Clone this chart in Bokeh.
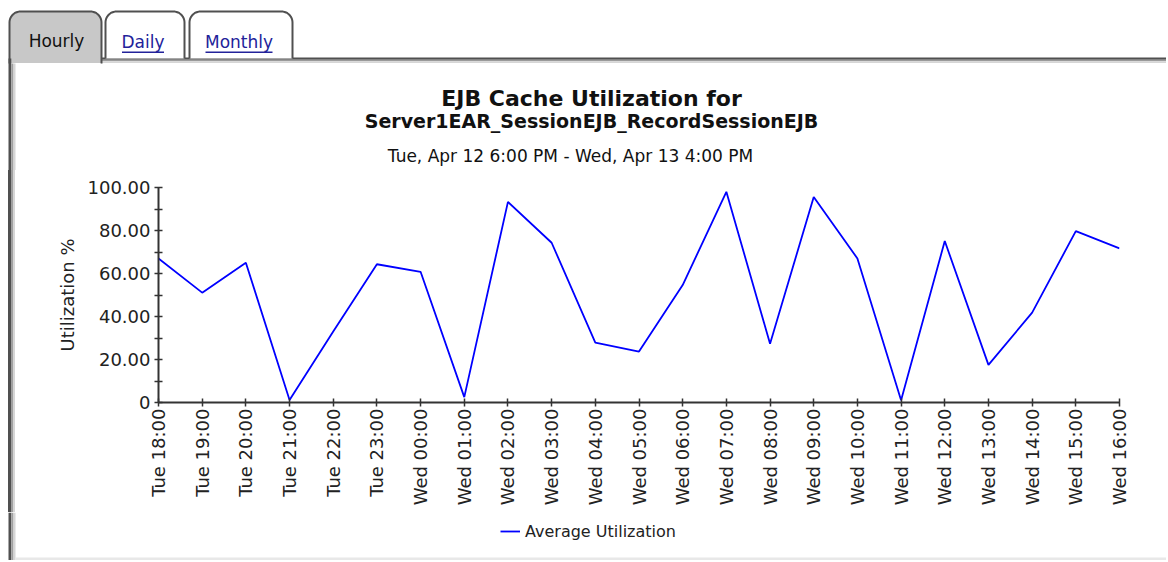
import math
import numpy as np
from bokeh.plotting import figure
from bokeh.layouts import column
from bokeh.models import Range1d, FixedTicker, Legend, LegendItem
from bokeh.core.properties import value
from bokeh.embed import file_html
from bokeh.resources import INLINE

# ---------------- data ----------------
hours = ["Tue 18:00", "Tue 19:00", "Tue 20:00", "Tue 21:00", "Tue 22:00", "Tue 23:00",
         "Wed 00:00", "Wed 01:00", "Wed 02:00", "Wed 03:00", "Wed 04:00", "Wed 05:00",
         "Wed 06:00", "Wed 07:00", "Wed 08:00", "Wed 09:00", "Wed 10:00", "Wed 11:00",
         "Wed 12:00", "Wed 13:00", "Wed 14:00", "Wed 15:00", "Wed 16:00"]
utilization = [67.0, 51.1, 65.0, 1.2, 33.0, 64.3,
               60.8, 2.5, 93.3, 74.3, 27.9, 23.7,
               54.6, 98.0, 27.3, 95.6, 67.0, 1.0,
               75.1, 17.5, 41.8, 79.7, 71.7]
y_ticks = [0, 20, 40, 60, 80, 100]
y_minor_ticks = [10, 30, 50, 70, 90]
y_tick_labels = ["0", "20.00", "40.00", "60.00", "80.00", "100.00"]
title_lines = ["EJB Cache Utilization for",
               "Server1EAR_SessionEJB_RecordSessionEJB",
               "Tue, Apr 12 6:00 PM - Wed, Apr 13 4:00 PM"]
tab_names = ["Hourly", "Daily", "Monthly"]
series_name = "Average Utilization"
y_label = "Utilization %"

# ---------------- layout constants (canvas px) ----------------
FONT = "DejaVu Sans"
TOTAL_W, TOTAL_H = 1166, 560
TOP_H = 170          # tabs + titles strip
BOT_Y = 512          # start of legend strip
FL, FR, FT, FB = 158, 1119, 187, 402  # chart frame in canvas px
TAB_LINE = "#505050"
LINK = "#22229a"
SERIES_COLOR = "#0000ff"
BORDER_CSS = ("linear-gradient(to right, #ffffff 0px, #ffffff 8px, #505050 8px, #505050 10.8px, "
              "#a0a0a0 10.8px, #a0a0a0 13px, #d6d6d6 13px, #d6d6d6 15px, #ffffff 15px, #ffffff 100%)")


def deco_fig(w, h, x0, x1, y_top, y_bot):
    f = figure(width=w, height=h, x_range=Range1d(x0, x1), y_range=Range1d(y_bot, y_top),
               output_backend="svg", toolbar_location=None,
               x_axis_type=None, y_axis_type=None, min_border=0,
               min_border_left=0, min_border_right=0, min_border_top=0, min_border_bottom=0,
               frame_align=False)
    f.outline_line_color = None
    f.grid.visible = False
    f.background_fill_color = "white"
    f.border_fill_color = "white"
    return f


def left_border(f, y0, y1, inner_top=None):
    it = y0 if inner_top is None else inner_top
    f.quad(left=8, right=10.8, top=y0, bottom=y1, fill_color="#505050", line_color=None)
    f.quad(left=10.8, right=13, top=it, bottom=y1, fill_color="#a0a0a0", line_color=None)
    f.quad(left=13, right=15, top=it, bottom=y1, fill_color="#d6d6d6", line_color=None)


def tab_path(l, r, t, b, rad):
    a1 = np.linspace(math.pi, 1.5 * math.pi, 12)
    a2 = np.linspace(1.5 * math.pi, 2 * math.pi, 12)
    xs = [l] + list(l + rad + rad * np.cos(a1)) + list(r - rad + rad * np.cos(a2)) + [r]
    ys = [b] + list(t + rad + rad * np.sin(a1)) + list(t + rad + rad * np.sin(a2)) + [b]
    return xs, ys


# ---------------- top strip: tabs + titles ----------------
top = deco_fig(TOTAL_W, TOP_H, 0, TOTAL_W, 0, TOP_H)
top.quad(left=101, right=TOTAL_W, top=57, bottom=59.2, fill_color="#505050", line_color=None)
top.quad(left=101, right=TOTAL_W, top=59.2, bottom=60.7, fill_color="#9a9a9a", line_color=None)
top.quad(left=101, right=TOTAL_W, top=60.7, bottom=62.5, fill_color="#d6d6d6", line_color=None)
tabs = [(9, 101, 11, 63, "#c8c8c8"), (105, 184, 11, 58, "white"), (189, 292, 11, 58, "white")]
for l, r, t, b, fill in tabs:
    xs, ys = tab_path(l, r, t, b, 11)
    top.patch(xs, ys, fill_color=fill, line_color=None)
    top.line(xs, ys, line_color=TAB_LINE, line_width=2)
top.quad(left=10.5, right=100, top=62.5, bottom=64, fill_color="white", line_color=None)
left_border(top, 58, TOP_H, 63)
# tab labels (y = cap middle)
top.text(x=[56], y=[40], text=[tab_names[0]], text_font=value(FONT), text_font_size="17px",
         text_align="center", text_baseline="middle", text_color="#111111")
top.text(x=[142.5, 238.5], y=[41.5, 41.5], text=tab_names[1:], text_font=value(FONT),
         text_font_size="17px", text_align="center", text_baseline="middle", text_color=LINK)
top.quad(left=[121.5, 205], right=[163.5, 272], top=[51, 51], bottom=[52.5, 52.5],
         fill_color=LINK, line_color=None)
# titles (y = cap middle)
top.text(x=[591], y=[97.5], text=[title_lines[0]], text_font=value(FONT), text_font_style="bold",
         text_font_size="22px", text_align="center", text_baseline="middle", text_color="#111111")
top.text(x=[591], y=[120], text=[title_lines[1]], text_font=value(FONT), text_font_style="bold",
         text_font_size="19px", text_align="center", text_baseline="middle", text_color="#111111")
top.text(x=[570], y=[155.5], text=[title_lines[2]], text_font=value(FONT),
         text_font_size="17px", text_align="center", text_baseline="middle", text_color="#111111")

# ---------------- main chart ----------------
MID_H = BOT_Y - TOP_H
xs_idx = list(range(len(hours)))
p = figure(width=TOTAL_W, height=MID_H,
           x_range=Range1d(0, len(hours) - 1), y_range=Range1d(0, 100),
           output_backend="svg", toolbar_location=None,
           min_border_left=FL, min_border_right=TOTAL_W - FR,
           min_border_top=FT - TOP_H, min_border_bottom=BOT_Y - FB,
           frame_align=False)
p.outline_line_color = None
p.background_fill_color = "white"
p.border_fill_color = None
p.styles = {"background": BORDER_CSS}
p.xgrid.visible = False
p.ygrid.visible = False

p.line(xs_idx, utilization, line_color=SERIES_COLOR, line_width=1.8)

for ax in (p.xaxis[0], p.yaxis[0]):
    ax.axis_line_width = 2
    ax.axis_line_color = "#333333"
    ax.major_tick_line_color = "#333333"
    ax.major_tick_line_width = 1.5
    ax.major_tick_in = 4
    ax.major_tick_out = 4
    ax.minor_tick_line_color = "#333333"
    ax.minor_tick_line_width = 1.5
    ax.minor_tick_in = 4
    ax.minor_tick_out = 4
    ax.major_label_text_font = FONT
    ax.major_label_text_color = "#222222"

p.xaxis.ticker = FixedTicker(ticks=xs_idx)
p.xaxis.major_label_overrides = {i: h for i, h in zip(xs_idx, hours)}
p.xaxis.major_label_orientation = math.pi / 2
p.xaxis.major_label_text_font_size = "18px"
p.xaxis.major_label_standoff = 2

p.yaxis.ticker = FixedTicker(ticks=y_ticks, minor_ticks=y_minor_ticks)
p.yaxis.major_label_overrides = {t: s for t, s in zip(y_ticks, y_tick_labels)}
p.yaxis.major_label_text_font_size = "18px"
p.yaxis.major_label_standoff = 4
p.yaxis.axis_label = y_label
p.yaxis.axis_label_text_font = FONT
p.yaxis.axis_label_text_font_size = "18px"
p.yaxis.axis_label_text_font_style = "normal"
p.yaxis.axis_label_text_color = "#222222"
p.yaxis.axis_label_standoff = 7

# ---------------- bottom strip: legend ----------------
BOT_H = TOTAL_H - BOT_Y
bot = deco_fig(TOTAL_W, BOT_H, 0, TOTAL_W, BOT_Y, TOTAL_H)
left_border(bot, BOT_Y, TOTAL_H)
bot.quad(left=15, right=TOTAL_W, top=557, bottom=TOTAL_H, fill_color="#e8e8e8", line_color=None)
# legend proxy: same series, lying outside this strip's visible range
leg_r = bot.line(x=xs_idx, y=utilization, line_color=SERIES_COLOR, line_width=1.8)
legend = Legend(items=[LegendItem(label=series_name, renderers=[leg_r])],
                location=(500, TOTAL_H - 541), padding=0, margin=0, spacing=0,
                border_line_color=None, background_fill_alpha=0,
                label_text_font=FONT, label_text_font_size="16px", label_text_color="#222222",
                glyph_width=20, glyph_height=20, label_height=20, label_standoff=5)
bot.add_layout(legend)

layout = column(top, p, bot)
open("out.html", "w").write(file_html(layout, INLINE))
